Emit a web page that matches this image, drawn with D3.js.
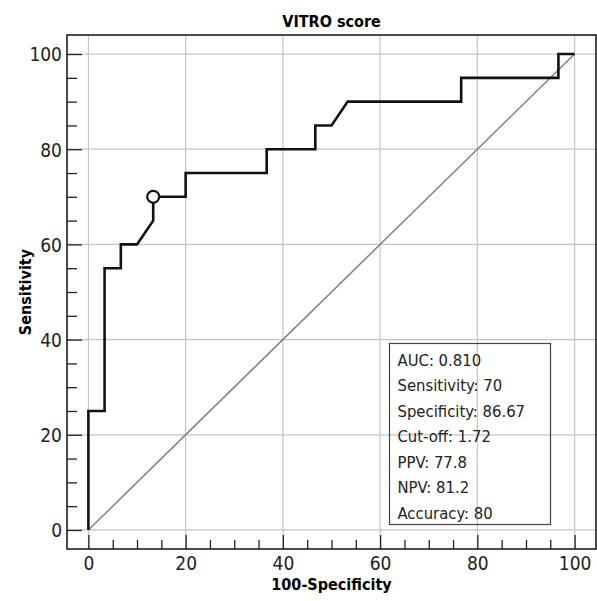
<!DOCTYPE html>
<html>
<head>
<meta charset="utf-8">
<script src="https://cdn.jsdelivr.net/npm/d3@7"></script>
<style>
  body { margin: 0; background: #fff; }
  text { font-family: "DejaVu Sans", sans-serif; font-stretch: condensed; }
</style>
</head>
<body>
<div id="chart"></div>
<script>
// ROC curve points: 100-specificity and sensitivity
const fpr = [0, 0, 3.33, 3.33, 6.67, 6.67, 10, 13.33, 13.33, 20, 20, 36.67, 36.67, 46.67, 46.67, 50, 53.33, 76.67, 76.67, 96.67, 96.67, 100];
const tpr = [0, 25, 25, 55, 55, 60, 60, 65, 70, 70, 75, 75, 80, 80, 85, 85, 90, 90, 95, 95, 100, 100];
const cutPoint = [13.33, 70];
const majorTicks = [0, 20, 40, 60, 80, 100];
const minorTicks = d3.range(0, 101, 5);
const statLines = ["AUC: 0.810", "Sensitivity: 70", "Specificity: 86.67", "Cut-off: 1.72", "PPV: 77.8", "NPV: 81.2", "Accuracy: 80"];

const width = 597, height = 601;
const margin = {top: 35, right: 1, bottom: 52, left: 67};
const w = width - margin.left - margin.right;
const h = height - margin.top - margin.bottom;

const svg = d3.select('#chart').append('svg')
    .attr('width', width)
    .attr('height', height);

const g = svg.append('g')
    .attr('transform', `translate(${margin.left},${margin.top})`);

const x = d3.scaleLinear().domain([-4.4, 104.4]).range([0, w]);
const y = d3.scaleLinear().domain([-4, 104]).range([h, 0]);

// grid
g.selectAll('.vgrid').data(majorTicks).enter().append('line')
    .attr('x1', d => x(d)).attr('x2', d => x(d))
    .attr('y1', 0).attr('y2', h)
    .attr('stroke', '#c4c4c4').attr('stroke-width', 1.2);
g.selectAll('.hgrid').data(majorTicks).enter().append('line')
    .attr('y1', d => y(d)).attr('y2', d => y(d))
    .attr('x1', 0).attr('x2', w)
    .attr('stroke', '#c4c4c4').attr('stroke-width', 1.2);

// diagonal reference
g.append('line')
    .attr('x1', x(0)).attr('y1', y(0))
    .attr('x2', x(100)).attr('y2', y(100))
    .attr('stroke', '#808080').attr('stroke-width', 1.5);

// axes
const xAxis = g.append('g').attr('transform', `translate(0,${h})`)
    .call(d3.axisBottom(x).tickValues(majorTicks).tickSize(-14).tickPadding(8));
const xMinor = g.append('g').attr('transform', `translate(0,${h})`)
    .call(d3.axisBottom(x).tickValues(minorTicks.filter(d => d % 20)).tickSize(-9).tickFormat(''));
const yAxis = g.append('g')
    .call(d3.axisLeft(y).tickValues(majorTicks).tickSize(-15).tickPadding(5));
const yMinor = g.append('g')
    .call(d3.axisLeft(y).tickValues(minorTicks.filter(d => d % 20)).tickSize(-10).tickFormat(''));

[xAxis, xMinor, yAxis, yMinor].forEach(a => {
    a.select('.domain').remove();
    a.selectAll('line').attr('stroke', '#222').attr('stroke-width', 1.3);
});
xAxis.selectAll('text').style('font-size', '19px').attr('fill', '#222');
yAxis.selectAll('text').style('font-size', '19px').attr('fill', '#222').attr('dy', '0.36em');

// frame
g.append('rect')
    .attr('width', w).attr('height', h)
    .attr('fill', 'none').attr('stroke', '#111').attr('stroke-width', 1.5);

// ROC curve
const pts = fpr.map((d, i) => [d, tpr[i]]);
g.append('path')
    .attr('d', d3.line().x(d => x(d[0])).y(d => y(d[1]))(pts))
    .attr('fill', 'none').attr('stroke', '#111').attr('stroke-width', 2.6)
    .attr('stroke-linejoin', 'miter');

g.append('circle')
    .attr('cx', x(cutPoint[0])).attr('cy', y(cutPoint[1])).attr('r', 6)
    .attr('fill', '#fff').attr('stroke', '#111').attr('stroke-width', 2.2);

// stats box
const box = g.append('g').attr('transform', `translate(${389.5 - margin.left},${343.5 - margin.top})`);
box.append('rect').attr('width', 161).attr('height', 181)
    .attr('fill', 'none').attr('stroke', '#444').attr('stroke-width', 1.2);
box.selectAll('text').data(statLines).enter().append('text')
    .attr('x', 8).attr('y', (d, i) => 22 + i * 25.5)
    .style('font-size', '16.5px').attr('fill', '#222')
    .text(d => d);

// titles
svg.append('text')
    .attr('x', margin.left + w / 2).attr('y', 27)
    .attr('text-anchor', 'middle')
    .style('font-size', '16px').style('font-weight', 'bold')
    .text('VITRO score');

svg.append('text')
    .attr('x', margin.left + w / 2).attr('y', 590)
    .attr('text-anchor', 'middle')
    .style('font-size', '16px').style('font-weight', 'bold')
    .text('100-Specificity');

svg.append('text')
    .attr('transform', `translate(31,${margin.top + y(50)}) rotate(-90)`)
    .attr('text-anchor', 'middle')
    .style('font-size', '16px').style('font-weight', 'bold')
    .text('Sensitivity');
</script>
</body>
</html>
